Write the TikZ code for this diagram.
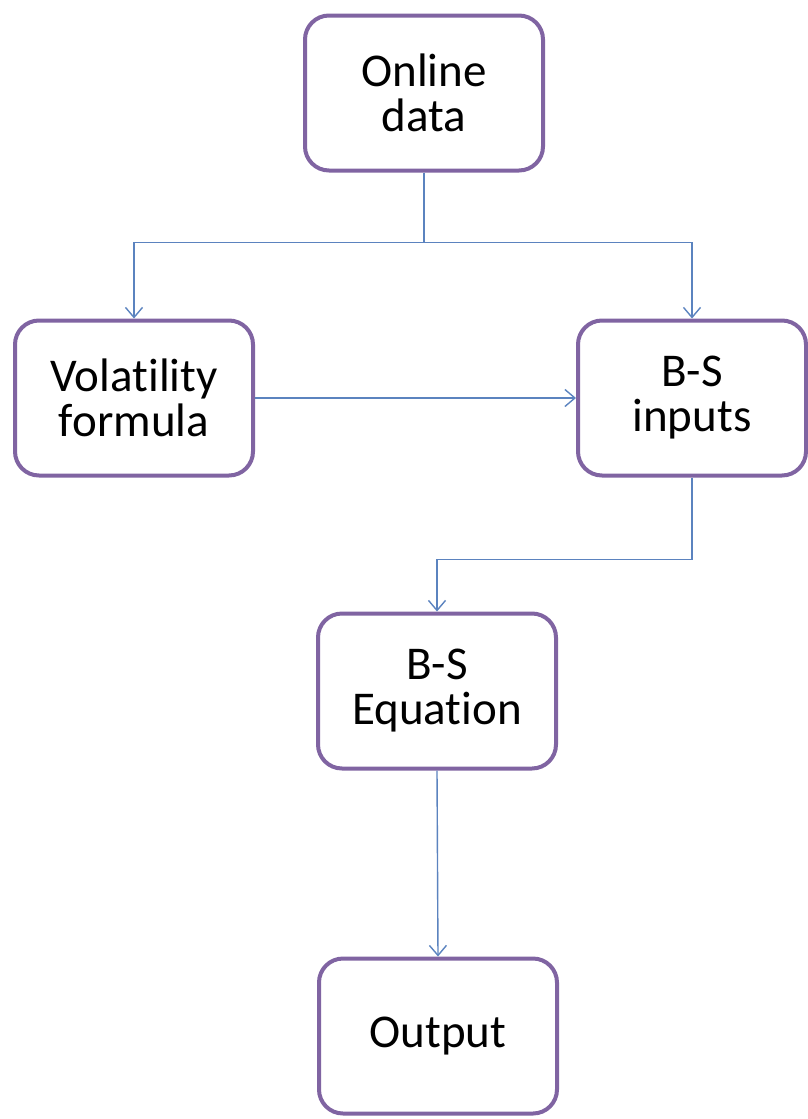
\documentclass[tikz,border=0pt]{standalone}
\usepackage{fontspec}
\setmainfont{Carlito}[Ligatures=NoCommon]
\usepackage{xcolor}
\usepackage{tikz}
\usetikzlibrary{arrows.meta, positioning}

\definecolor{boxline}{HTML}{8064A2}
\definecolor{flowline}{HTML}{5B83BF}

\begin{document}
\begin{tikzpicture}[
    x=1pt, y=-1pt,
    box/.style={rectangle, rounded corners=24pt, draw=boxline, line width=4pt,
                minimum width=238pt, minimum height=155pt, inner sep=0pt,
                align=center, fill=white,
                font=\fontsize{47}{45}\selectfont},
    arrow/.style={-{Straight Barb[length=10pt, width=17pt, line width=1.4pt]},
                draw=flowline, line width=1.4pt}
]
\useasboundingbox (0,0) rectangle (807,1119);

\node[box] (online) at (424,93) {Online\\data};
\node[box] (vol) at (134,398) {Volatility\\formula};
\node[box, minimum width=228pt] (inputs) at (692,398) {B-S\\inputs};
\node[box] (equation) at (437,691) {B-S\\Equation};
\node[box] (output) at (438,1036) {Output};

\draw[arrow] (online.south) -- ++(0,70) -| (vol.north);
\draw[arrow] (online.south) -- ++(0,70) -| (inputs.north);
\draw[arrow] (vol.east) -- (inputs.west);
\draw[arrow] (inputs.south) -- ++(0,82) -| (equation.north);
\draw[arrow] (equation.south) -- (output.north);

\end{tikzpicture}
\end{document}
